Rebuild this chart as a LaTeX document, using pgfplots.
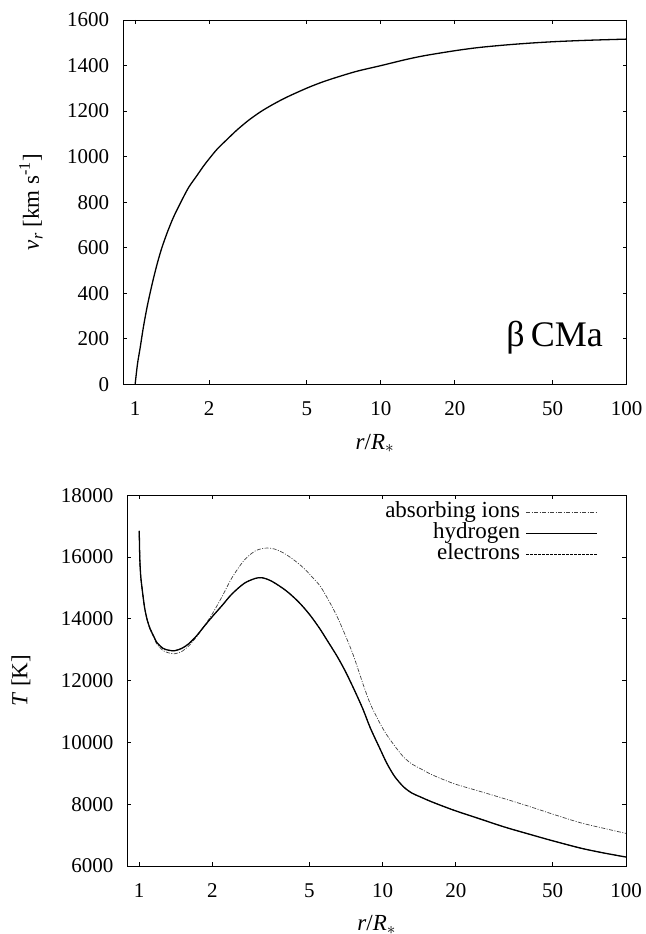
\documentclass[border=0pt]{standalone}
\usepackage{fontspec}
\setmainfont{Liberation Serif}
\usepackage{pgfplots}
\usepackage{pgfplotstable}
\pgfplotsset{compat=1.18}

\newcommand\tickfont{\fontsize{21bp}{25bp}\selectfont}
\newcommand\chartfont{\fontsize{23bp}{27bp}\selectfont}

% velocity law
\pgfplotstableread{
r v
1.000 0
1.010 42
1.025 98
1.048 160
1.080 250
1.116 334
1.150 400
1.188 466
1.235 537
1.285 600
1.355 670
1.434 735
1.540 803
1.652 865
1.780 915
1.903 960
2.000 990
2.158 1033
2.380 1078
2.604 1118
2.900 1160
3.242 1197
3.650 1230
4.160 1262
5.030 1302
5.800 1328
6.690 1350
8.000 1375
10.04 1400
12.50 1425
15.00 1443
20.00 1465
25.00 1479
32.00 1490
40.00 1498
51.30 1505
70.00 1511
100.0 1516
}\vtable

% temperatures
\pgfplotstableread{
r T
1.000 16850
1.003 16300
1.007 15800
1.015 15350
1.025 15050
1.040 14650
1.055 14310
1.080 13950
1.110 13670
1.150 13420
1.180 13240
1.250 13050
1.320 12985
1.400 12970
1.500 13050
1.600 13200
1.720 13450
1.850 13760
2.000 14080
2.200 14450
2.400 14800
2.700 15150
3.000 15310
3.200 15330
3.500 15220
4.000 14920
4.500 14560
5.000 14150
5.500 13700
6.000 13230
6.500 12790
7.000 12330
7.600 11750
8.300 11080
8.900 10470
9.800 9760
10.40 9330
11.20 8900
12.20 8560
13.20 8360
14.30 8236
16.00 8070
19.60 7807
25.00 7530
31.50 7268
40.00 7030
50.00 6816
65.00 6580
80.00 6430
100.0 6290
}\hydtable

\pgfplotstableread{
r T
1.000 16850
1.003 16300
1.007 15800
1.015 15350
1.025 15050
1.040 14650
1.055 14300
1.080 13930
1.110 13640
1.150 13380
1.180 13190
1.250 12980
1.320 12900
1.400 12870
1.500 12950
1.600 13130
1.720 13420
1.850 13770
2.000 14170
2.200 14750
2.400 15320
2.700 15900
3.000 16200
3.300 16290
3.600 16260
3.900 16140
4.300 15920
4.730 15650
5.100 15380
5.540 15060
6.000 14600
6.480 14100
7.000 13500
7.590 12810
8.300 11900
8.900 11250
9.780 10600
10.43 10230
11.30 9850
12.20 9526
13.20 9300
14.30 9152
16.00 8950
19.60 8668
25.00 8420
31.50 8184
40.00 7930
50.50 7668
65.00 7400
80.00 7230
100.0 7055
}\iontable

\begin{document}
\begin{tikzpicture}
\useasboundingbox (0,0) rectangle (646bp,934bp);

\begin{axis}[
    scale only axis,
    anchor=south west,
    at={(123.3bp,549.7bp)},
    width=503.2bp, height=364.3bp,
    xmode=log,
    xmin=0.895, xmax=100,
    xtick={1,2,5,10,20,50,100},
    xticklabels={1,2,5,10,20,50,100},
    minor tick length=0pt,
    major tick length=4bp,
    tick align=inside,
    tick pos=both,
    scaled y ticks=false,
    axis line style={line width=0.8bp},
    every tick/.style={line width=0.8bp, black},
    /pgf/number format/assume math mode=true,
    /pgf/number format/set thousands separator={},
    tick label style={font=\tickfont},
    xticklabel style={inner sep=0pt, anchor=base, yshift=-31.5bp},
    yticklabel style={inner sep=0pt, anchor=east, xshift=-14bp},
    xlabel={\textit{r}/\textit{R}$_{*}$},
    ymin=0, ymax=1600,
    ytick={0,200,...,1600},
    ylabel={\textit{v}\textsubscript{\textit{r}} [km s\textsuperscript{-1}]},
    every axis y label/.style={at={(axis description cs:-0.1835,0.5)}, rotate=90, anchor=center, font=\chartfont},
    every axis x label/.style={at={(axis description cs:0.5,-0.162)}, anchor=center, font=\chartfont},
]
\addplot[black, line width=1.3bp, smooth, tension=0.5] table[x=r, y=v] {\vtable};
\node[font=\fontsize{36bp}{42bp}\selectfont, anchor=center] at (axis cs:51,205) {β\,CMa};
\end{axis}

\begin{axis}[
    scale only axis,
    anchor=south west,
    at={(127.5bp,68bp)},
    width=498.5bp, height=370.7bp,
    xmode=log,
    xmin=0.895, xmax=100,
    xtick={1,2,5,10,20,50,100},
    xticklabels={1,2,5,10,20,50,100},
    minor tick length=0pt,
    major tick length=4bp,
    tick align=inside,
    tick pos=both,
    scaled y ticks=false,
    axis line style={line width=0.8bp},
    every tick/.style={line width=0.8bp, black},
    /pgf/number format/assume math mode=true,
    /pgf/number format/set thousands separator={},
    tick label style={font=\tickfont},
    xticklabel style={inner sep=0pt, anchor=base, yshift=-31.5bp},
    yticklabel style={inner sep=0pt, anchor=east, xshift=-14bp},
    xlabel={\textit{r}/\textit{R}$_{*}$},
    ymin=6000, ymax=18000,
    ytick={6000,8000,...,18000},
    ylabel={\textit{T} [K]},
    every axis y label/.style={at={(axis description cs:-0.2136,0.5)}, rotate=90, anchor=center, font=\chartfont},
    every axis x label/.style={at={(axis description cs:0.5,-0.159)}, anchor=center, font=\chartfont},
    legend plot pos=right,
    legend cell align=right,
    legend style={draw=none, fill=none, font=\chartfont, inner sep=0pt,
      anchor=north east, at={(axis description cs:0.944,0.982)},
      /tikz/column sep=5bp,
      nodes={inner sep=0.5bp, text height=15bp, text depth=5bp}},
    legend image code/.code={\draw[#1] (0bp,0bp) -- (71bp,0bp);},
]
\addplot[black!75, line width=0.7bp, smooth, tension=0.5, dash pattern=on 4bp off 1.5bp on 1bp off 1.5bp] table[x=r, y=T] {\iontable};
\addplot[black, line width=1.3bp, smooth, tension=0.5] table[x=r, y=T] {\hydtable};
\addplot[black, line width=0.7bp, smooth, tension=0.5, dash pattern=on 2.5bp off 1.5bp] table[x=r, y=T] {\hydtable};
\legend{absorbing ions, hydrogen, electrons}
\end{axis}
\end{tikzpicture}
\end{document}
